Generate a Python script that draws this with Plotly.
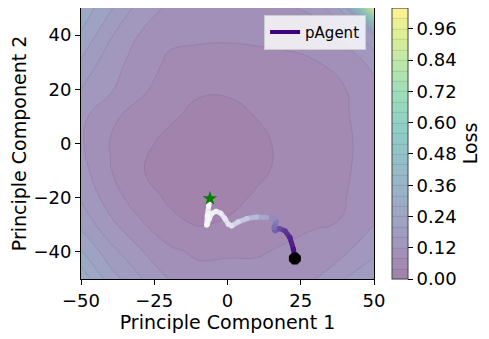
import plotly.graph_objects as go
from plotly.colors import sequential, sample_colorscale, hex_to_rgb, unlabel_rgb

# loss landscape grid
grid_x = [-50, -40, -30, -20, -10, 0, 10, 20, 30, 40, 50]
grid_y = [-50, -40, -30, -20, -10, 0, 10, 20, 30, 40, 50]
loss = [
    [0.31, 0.22, 0.165, 0.118, 0.098, 0.093, 0.095, 0.105, 0.12, 0.16, 0.20],
    [0.245, 0.175, 0.125, 0.09, 0.072, 0.076, 0.076, 0.086, 0.095, 0.115, 0.15],
    [0.19, 0.13, 0.088, 0.05, 0.038, 0.045, 0.055, 0.068, 0.077, 0.082, 0.12],
    [0.155, 0.10, 0.057, 0.035, 0.025, 0.028, 0.045, 0.058, 0.068, 0.078, 0.11],
    [0.135, 0.082, 0.043, 0.026, 0.017, 0.02, 0.032, 0.05, 0.063, 0.075, 0.098],
    [0.125, 0.078, 0.05, 0.03, 0.02, 0.022, 0.032, 0.048, 0.062, 0.074, 0.095],
    [0.13, 0.089, 0.063, 0.046, 0.03, 0.03, 0.041, 0.052, 0.063, 0.075, 0.105],
    [0.16, 0.125, 0.09, 0.058, 0.045, 0.044, 0.05, 0.058, 0.066, 0.078, 0.11],
    [0.195, 0.135, 0.105, 0.073, 0.065, 0.065, 0.068, 0.072, 0.078, 0.10, 0.13],
    [0.235, 0.165, 0.118, 0.09, 0.088, 0.086, 0.088, 0.09, 0.10, 0.13, 0.20],
    [0.27, 0.205, 0.145, 0.113, 0.103, 0.103, 0.108, 0.115, 0.13, 0.22, 1.02],
]

# pAgent trajectory in PCA space, start -> end
path_x = [23.0, 22.5, 21.3, 19.6, 17.7, 16.2, 15.9, 16.6, 16.0, 13.4, 10.0, 6.6, 3.7,
          1.4, 0.3, -0.9, -2.3, -3.9, -5.3, -6.2, -6.9, -7.1, -6.9, -6.4, -6.0]
path_y = [-42.4, -39.0, -34.7, -32.2, -31.4, -32.2, -31.0, -28.9, -27.9, -27.3, -27.1,
          -27.7, -28.9, -30.4, -29.8, -27.7, -25.7, -25.0, -25.7, -27.7, -29.8, -30.1,
          -26.7, -23.0, -20.8]
# training progress of each point (0 = start, 1 = end)
progress = [0.0, 0.06, 0.12, 0.18, 0.24, 0.3, 0.34, 0.38, 0.45, 0.55, 0.62, 0.68, 0.74,
            0.79, 0.82, 0.85, 0.87, 0.89, 0.91, 0.93, 0.95, 0.96, 0.97, 0.99, 1.0]
start_pt = (23.0, -42.4)
end_pt = (-6.0, -20.3)

x_ticks = [-50, -25, 0, 25, 50]
y_ticks = [-40, -20, 0, 20, 40]
cbar_ticks = [0.0, 0.12, 0.24, 0.36, 0.48, 0.60, 0.72, 0.84, 0.96]

FONT = "DejaVu Sans"


def fmt(v):
    return str(v).replace("-", "\u2212")


# viridis drawn at alpha 0.5 over white
vir = sequential.Viridis
pale_viridis = []
for i, c in enumerate(vir):
    r, g, b = hex_to_rgb(c) if c.startswith("#") else unlabel_rgb(c)
    pale_viridis.append([i / (len(vir) - 1),
                         "rgb(%d,%d,%d)" % (0.5 * r + 127.5, 0.5 * g + 127.5, 0.5 * b + 127.5)])

fig = go.Figure()

fig.add_trace(go.Contour(
    x=grid_x, y=grid_y, z=loss,
    colorscale=pale_viridis,
    zmin=0, zmax=1.04,
    contours=dict(start=0, end=1.04, size=0.04, coloring="fill"),
    line=dict(width=0.7, color="rgba(90,60,110,0.22)", smoothing=1.3),
    colorbar=dict(
        x=1.061, xanchor="left", xpad=0, ypad=0,
        y=0.5, len=1, thickness=16,
        outlinewidth=1, outlinecolor="#444444",
        tickvals=cbar_ticks, ticktext=["%.2f" % v for v in cbar_ticks],
        ticks="outside", ticklen=5, tickcolor="black",
        tickfont=dict(family=FONT, size=18, color="black"),
        title=dict(text="Loss", side="right", font=dict(family=FONT, size=19, color="black")),
    ),
    hoverinfo="skip",
))

# trajectory, one segment per step so the colour can fade along it
cols = sample_colorscale("Purples", [1 - p for p in progress])
for i in range(len(path_x) - 1):
    fig.add_trace(go.Scatter(
        x=path_x[i:i + 2], y=path_y[i:i + 2],
        mode="lines+markers",
        line=dict(color=cols[i], width=5),
        marker=dict(color=cols[i], size=5),
        opacity=0.9,
        showlegend=False, hoverinfo="skip",
    ))

fig.add_trace(go.Scatter(
    x=[start_pt[0]], y=[start_pt[1]], mode="markers",
    marker=dict(symbol="octagon", size=13, color="black"),
    showlegend=False,
))
fig.add_trace(go.Scatter(
    x=[end_pt[0]], y=[end_pt[1]], mode="markers",
    marker=dict(symbol="star", size=11, color="green"),
    showlegend=False,
))

# legend entry
fig.add_trace(go.Scatter(
    x=[None], y=[None], mode="lines",
    line=dict(color="#3f007d", width=4),
    name="pAgent",
))

axis_common = dict(
    showline=True, linecolor="black", linewidth=1, mirror=True,
    ticks="outside", ticklen=5, tickcolor="black",
    tickfont=dict(family=FONT, size=18, color="black"),
    showgrid=False, zeroline=False, automargin=False,
)

# the page body adds an 8px offset, so the figure is 8px smaller and margins shifted
fig.update_layout(
    width=481, height=331,
    margin=dict(l=73, r=115, t=0, b=60),
    paper_bgcolor="white", plot_bgcolor="white",
    font=dict(family=FONT, color="black"),
    xaxis=dict(range=[-50, 50], tickvals=x_ticks, ticktext=[fmt(v) for v in x_ticks],
               title=dict(text="Principle Component 1", standoff=6,
                          font=dict(family=FONT, size=19)),
               **axis_common),
    yaxis=dict(range=[-50, 50], tickvals=y_ticks, ticktext=[fmt(v) for v in y_ticks],
               title=dict(text="Principle Component 2", standoff=5,
                          font=dict(family=FONT, size=19)),
               **axis_common),
    legend=dict(x=0.973, y=0.975, xanchor="right", yanchor="top",
                bgcolor="rgba(255,255,255,0.8)", bordercolor="#cccccc", borderwidth=1,
                font=dict(family=FONT, size=15), tracegroupgap=0),
)

fig.write_html("out.html")
